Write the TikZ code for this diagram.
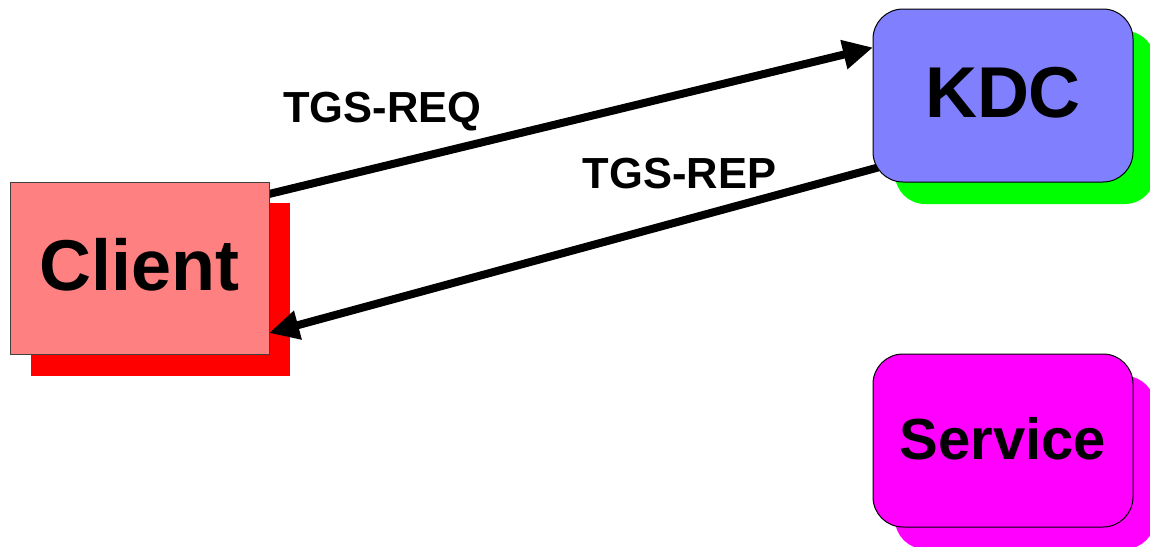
\documentclass[tikz,border=0pt]{standalone}
\usepackage{fontspec}
\setmainfont{Liberation Sans}
\usetikzlibrary{arrows.meta,calc}
\pgfdeclarelayer{shadowlayer}
\pgfdeclarelayer{arrowlayer}
\pgfsetlayers{shadowlayer,arrowlayer,main}
\definecolor{clientfill}{HTML}{FF8080}
\definecolor{clientshadow}{HTML}{FF0000}
\definecolor{kdcfill}{HTML}{8080FF}
\definecolor{kdcshadow}{HTML}{00FF00}
\definecolor{servicefill}{HTML}{FF00FF}
\definecolor{clientborder}{HTML}{404040}
\tikzset{
  box/.style={draw=black, line width=1pt, minimum width=260pt, minimum height=173pt, inner sep=0pt, outer sep=0pt, font=\bfseries},
  roundbox/.style={box, rounded corners=30pt},
  msg/.style={line width=8pt, -{Triangle[length=30pt,width=28pt]}},
  msglabel/.style={anchor=base, inner sep=0pt, font=\fontsize{43.5}{48}\selectfont\bfseries}
}
\begin{document}
\begin{tikzpicture}[x=1pt,y=-1pt]
\useasboundingbox (0,0) rectangle (1150,546);
% front boxes
\node[box, draw=clientborder, fill=clientfill, minimum width=259pt, minimum height=172pt,
      text height=53pt, text depth=9pt, font=\fontsize{72}{80}\selectfont\bfseries] (client) at (139.5,268) {Client};
\node[roundbox, fill=kdcfill, text height=52pt, text depth=9pt,
      font=\fontsize{72}{80}\selectfont\bfseries] (kdc) at (1003,95.5) {KDC};
\node[roundbox, fill=servicefill, text height=42pt, text depth=5pt,
      font=\fontsize{58}{64}\selectfont\bfseries] (service) at (1003,440.5) {Service};
% shadows
\begin{pgfonlayer}{shadowlayer}
  \fill[clientshadow] (31,203) rectangle (290,376);
  \fill[kdcshadow, rounded corners=30pt] (895,31) rectangle (1155,204);
  \fill[servicefill, rounded corners=30pt] (895,376) rectangle (1155,549);
\end{pgfonlayer}
% messages
\begin{pgfonlayer}{arrowlayer}
  \draw[msg] ($(client.east)+(0,-74)$) -- ($(kdc.west)+(0,-48)$);
  \draw[msg] ($(kdc.west)+(5,72)$) -- ($(client.east)+(0,65)$);
\end{pgfonlayer}
\node[msglabel] (reqlabel) at (382.5,122) {TGS-REQ};
\node[msglabel] (replabel) at (679.5,188) {TGS-REP};
\end{tikzpicture}
\end{document}
